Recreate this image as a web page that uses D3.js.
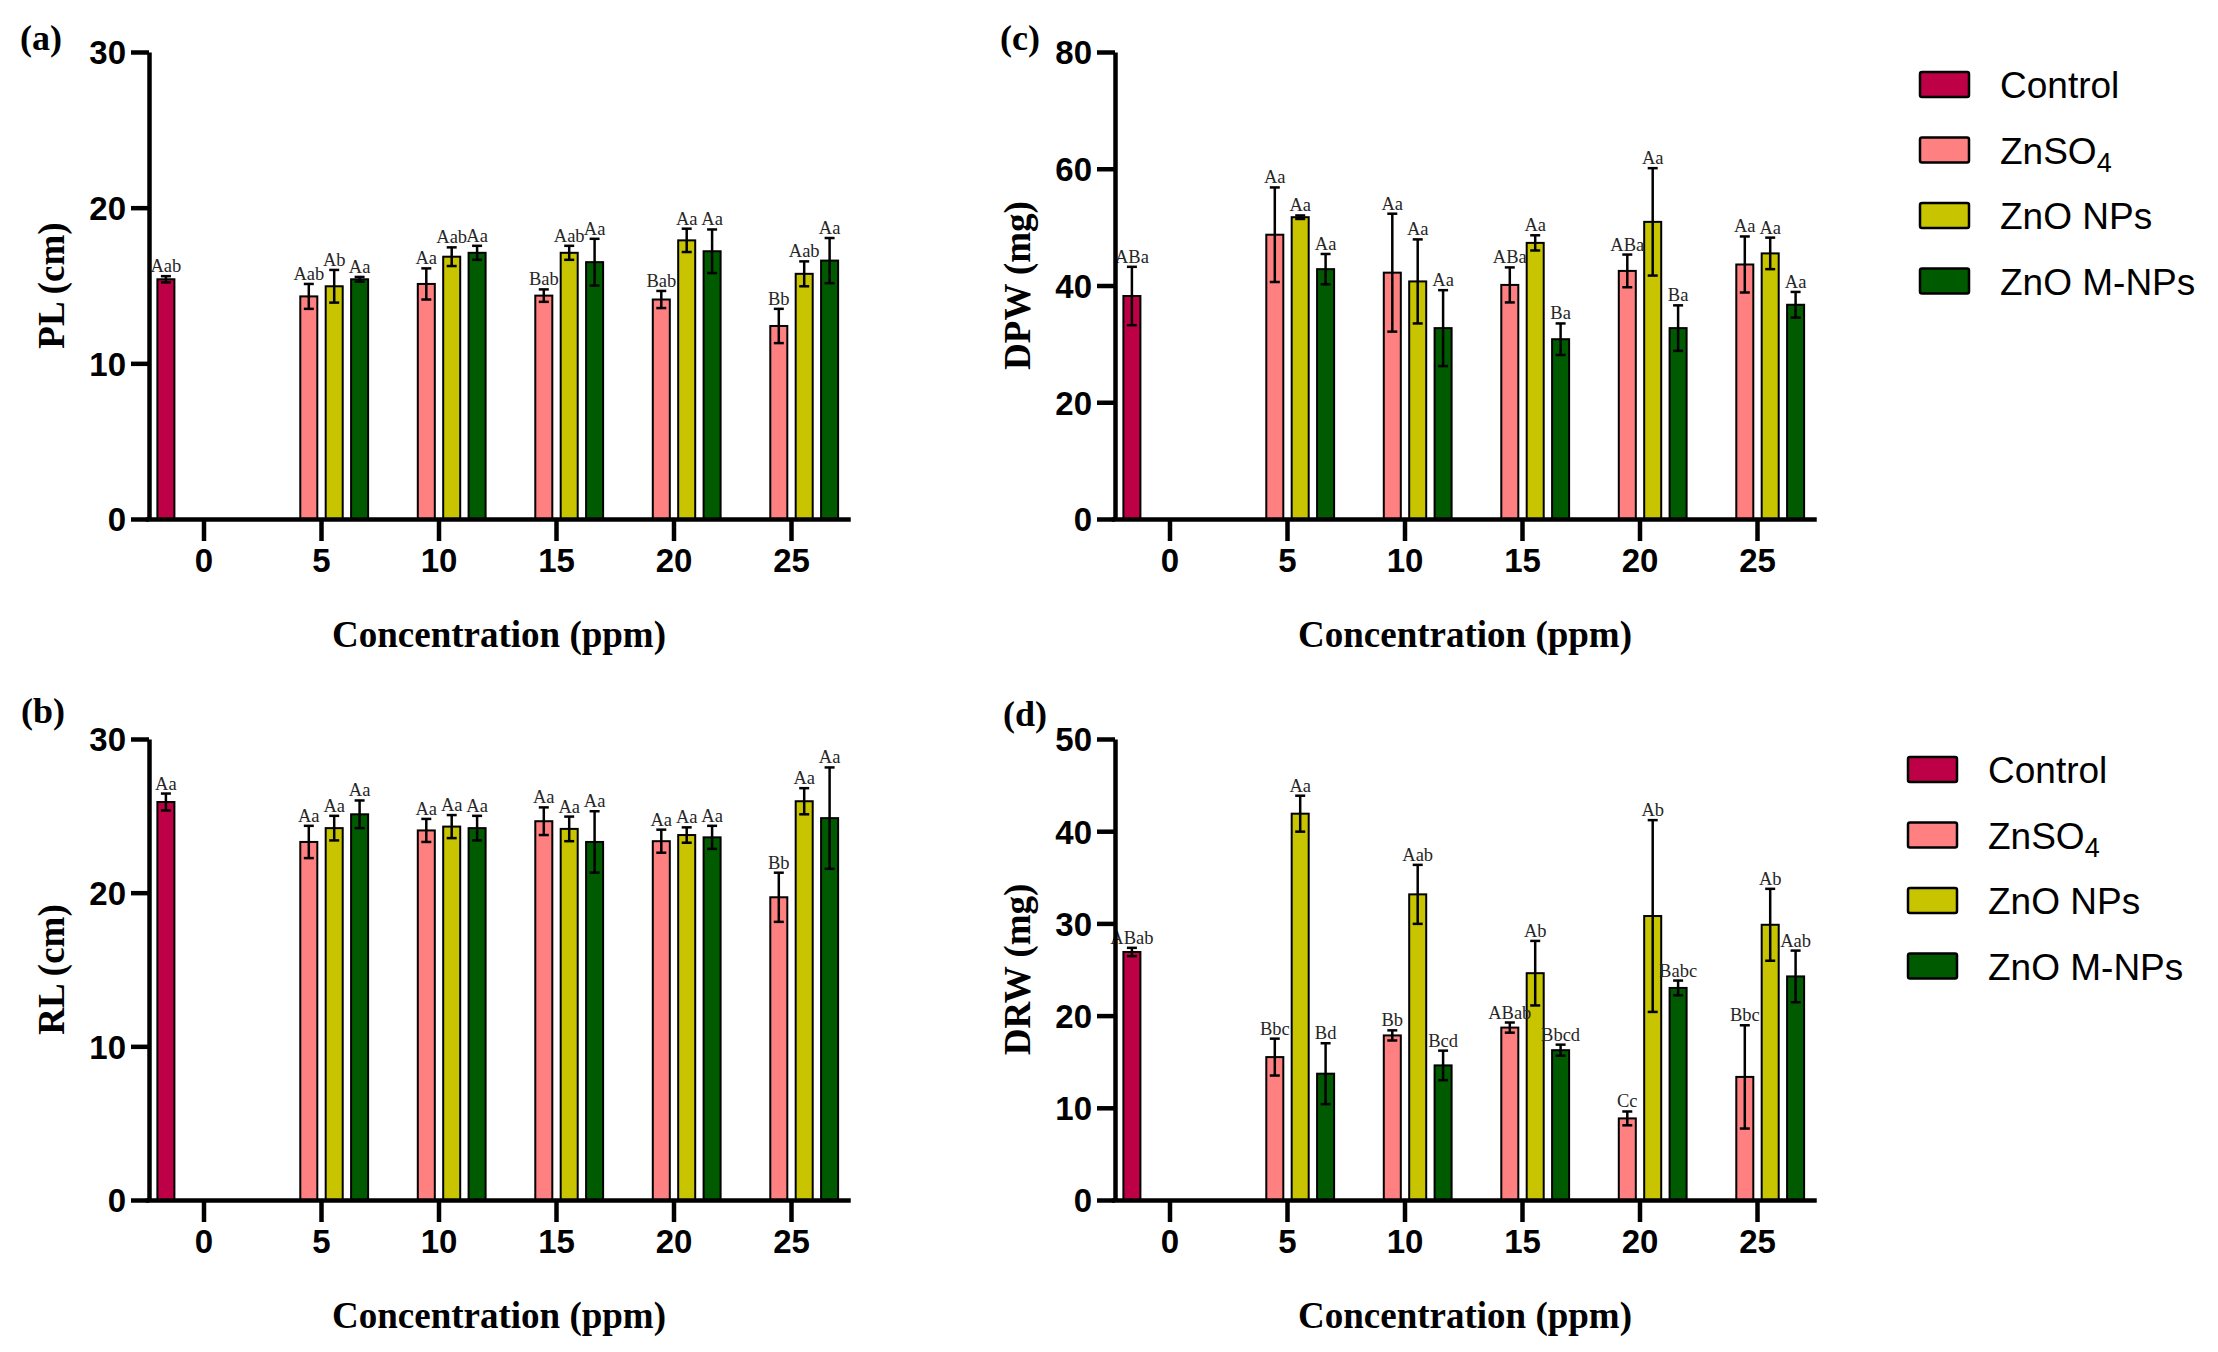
<!DOCTYPE html>
<html>
<head>
<meta charset="utf-8">
<script src="https://cdn.jsdelivr.net/npm/d3@7"></script>
<style>
  body { margin: 0; background: #fff; }
</style>
</head>
<body>
<svg id="fig" width="2218" height="1352"></svg>
<script>
// categories
const concentrations = ["0", "5", "10", "15", "20", "25"];
const treatments = ["Control", "ZnSO4", "ZnO NPs", "ZnO M-NPs"];
const colors = ["#BE0046", "#FF8080", "#C8C400", "#005A00"];

// rows = concentration, columns = treatment (Control, ZnSO4, ZnO NPs, ZnO M-NPs)
const plMean = [[15.4, null, null, null], [null, 14.3, 14.95, 15.4], [null, 15.1, 16.85, 17.1],
                [null, 14.35, 17.1, 16.5], [null, 14.1, 17.9, 17.2], [null, 12.4, 15.75, 16.6]];
const plErr = [[0.2, null, null, null], [null, 0.8, 1.05, 0.15], [null, 1.0, 0.6, 0.45],
               [null, 0.4, 0.45, 1.5], [null, 0.55, 0.75, 1.4], [null, 1.1, 0.8, 1.45]];
const plLetters = [["Aab"], [null, "Aab", "Ab", "Aa"], [null, "Aa", "Aab", "Aa"],
                   [null, "Bab", "Aab", "Aa"], [null, "Bab", "Aa", "Aa"], [null, "Bb", "Aab", "Aa"]];

const rlMean = [[25.9, null, null, null], [null, 23.3, 24.2, 25.1], [null, 24.05, 24.3, 24.2],
                [null, 24.65, 24.15, 23.3], [null, 23.35, 23.75, 23.6], [null, 19.7, 25.95, 24.85]];
const rlErr = [[0.55, null, null, null], [null, 1.05, 0.8, 0.9], [null, 0.75, 0.75, 0.8],
               [null, 0.9, 0.8, 2.0], [null, 0.75, 0.5, 0.75], [null, 1.6, 0.85, 3.3]];
const rlLetters = [["Aa"], [null, "Aa", "Aa", "Aa"], [null, "Aa", "Aa", "Aa"],
                   [null, "Aa", "Aa", "Aa"], [null, "Aa", "Aa", "Aa"], [null, "Bb", "Aa", "Aa"]];

const dpwMean = [[38.2, null, null, null], [null, 48.7, 51.7, 42.8], [null, 42.2, 40.7, 32.7],
                 [null, 40.1, 47.3, 30.8], [null, 42.5, 50.9, 32.7], [null, 43.6, 45.5, 36.7]];
const dpwErr = [[5.0, null, null, null], [null, 8.1, 0.3, 2.6], [null, 10.1, 7.2, 6.5],
                [null, 3.0, 1.3, 2.7], [null, 2.8, 9.2, 3.9], [null, 4.8, 2.7, 2.2]];
const dpwLetters = [["ABa"], [null, "Aa", "Aa", "Aa"], [null, "Aa", "Aa", "Aa"],
                    [null, "ABa", "Aa", "Ba"], [null, "ABa", "Aa", "Ba"], [null, "Aa", "Aa", "Aa"]];

const drwMean = [[26.9, null, null, null], [null, 15.5, 41.9, 13.7], [null, 17.85, 33.15, 14.6],
                 [null, 18.7, 24.6, 16.25], [null, 8.85, 30.8, 23.0], [null, 13.35, 29.85, 24.25]];
const drwErr = [[0.45, null, null, null], [null, 2.0, 1.95, 3.3], [null, 0.55, 3.2, 1.6],
                [null, 0.55, 3.5, 0.6], [null, 0.75, 10.4, 0.8], [null, 5.6, 3.9, 2.8]];
const drwLetters = [["ABab"], [null, "Bbc", "Aa", "Bd"], [null, "Bb", "Aab", "Bcd"],
                    [null, "ABab", "Ab", "Bbcd"], [null, "Cc", "Ab", "Babc"], [null, "Bbc", "Ab", "Aab"]];

const tickFont = "'Liberation Sans', Arial, sans-serif";
const serif = "'Liberation Serif', 'Times New Roman', serif";

const svg = d3.select("#fig");

const panels = [
    {tag: "(a)", title: "PL (cm)", mean: plMean, err: plErr, lab: plLetters, max: 30, step: 10,
     ax: 149, top: 52, base: 519, tagX: 20, tagY: 50},
    {tag: "(b)", title: "RL (cm)", mean: rlMean, err: rlErr, lab: rlLetters, max: 30, step: 10,
     ax: 149, top: 739, base: 1200, tagX: 21, tagY: 723},
    {tag: "(c)", title: "DPW (mg)", mean: dpwMean, err: dpwErr, lab: dpwLetters, max: 80, step: 20,
     ax: 1115, top: 52, base: 519, tagX: 1000, tagY: 50},
    {tag: "(d)", title: "DRW (mg)", mean: drwMean, err: drwErr, lab: drwLetters, max: 50, step: 10,
     ax: 1115, top: 739, base: 1200, tagX: 1003, tagY: 726}
];

const drawPanel = (p) => {
    const g = svg.append("g");

    const x0 = d3.scaleBand()
        .domain(concentrations)
        .range([p.ax - 3.75, p.ax + 701.25]);
    const x1 = d3.scaleBand()
        .domain(treatments)
        .range([0, x0.bandwidth()])
        .paddingInner(0.33)
        .paddingOuter(0.478);
    const y = d3.scaleLinear()
        .domain([0, p.max])
        .range([p.base, p.top]);

    // flatten rows, drop the empty slots
    const rows = [];
    concentrations.forEach((c, i) => {
        treatments.forEach((t, j) => {
            const v = p.mean[i][j];
            if (v == null) return;
            rows.push({c: c, t: t, j: j, v: v, e: p.err[i][j], l: p.lab[i][j]});
        });
    });
    const cx = (d) => x0(d.c) + x1(d.t) + x1.bandwidth() / 2;

    // bars
    g.selectAll("rect.bar")
        .data(rows)
        .join("rect")
        .attr("class", "bar")
        .attr("x", (d) => x0(d.c) + x1(d.t))
        .attr("y", (d) => y(d.v))
        .attr("width", x1.bandwidth())
        .attr("height", (d) => y(0) - y(d.v))
        .attr("fill", (d) => colors[d.j])
        .attr("stroke", "#000")
        .attr("stroke-width", 2);

    // error bars
    const eb = g.selectAll("g.err")
        .data(rows)
        .join("g")
        .attr("class", "err")
        .attr("stroke", "#000")
        .attr("stroke-width", 2.5);
    eb.append("line")
        .attr("x1", cx).attr("x2", cx)
        .attr("y1", (d) => y(d.v - d.e))
        .attr("y2", (d) => y(d.v + d.e));
    eb.append("line")
        .attr("x1", (d) => cx(d) - 5).attr("x2", (d) => cx(d) + 5)
        .attr("y1", (d) => y(d.v + d.e)).attr("y2", (d) => y(d.v + d.e));
    eb.append("line")
        .attr("x1", (d) => cx(d) - 5).attr("x2", (d) => cx(d) + 5)
        .attr("y1", (d) => y(d.v - d.e)).attr("y2", (d) => y(d.v - d.e));

    // significance letters
    g.selectAll("text.sig")
        .data(rows)
        .join("text")
        .attr("class", "sig")
        .attr("x", cx)
        .attr("y", (d) => y(d.v + d.e) - 4)
        .attr("text-anchor", "middle")
        .attr("font-family", serif)
        .attr("font-size", 18.5)
        .attr("fill", "#262626")
        .text((d) => d.l);

    // axes
    const yAxis = g.append("g")
        .attr("transform", `translate(${p.ax},0)`)
        .call(d3.axisLeft(y)
            .tickValues(d3.range(0, p.max + 0.1, p.step))
            .tickSize(18)
            .tickSizeOuter(0)
            .tickPadding(5));
    const xAxis = g.append("g")
        .attr("transform", `translate(0,${p.base})`)
        .call(d3.axisBottom(x0)
            .tickSize(22)
            .tickSizeOuter(0)
            .tickPadding(8));

    [yAxis, xAxis].forEach((a) => {
        a.selectAll("path, line").attr("stroke", "#000").attr("stroke-width", 4.5);
        a.selectAll("text")
            .attr("font-family", tickFont)
            .attr("font-weight", "bold")
            .attr("font-size", 33)
            .attr("fill", "#000");
    });
    yAxis.selectAll("text").attr("dy", "0.36em");

    // titles
    g.append("text")
        .attr("transform", `translate(${p.ax - 85},${(p.top + p.base) / 2}) rotate(-90)`)
        .attr("text-anchor", "middle")
        .attr("font-family", serif)
        .attr("font-weight", "bold")
        .attr("font-size", 37)
        .text(p.title);
    g.append("text")
        .attr("x", p.ax + 350)
        .attr("y", p.base + 128)
        .attr("text-anchor", "middle")
        .attr("font-family", serif)
        .attr("font-weight", "bold")
        .attr("font-size", 37)
        .text("Concentration (ppm)");
    g.append("text")
        .attr("x", p.tagX)
        .attr("y", p.tagY)
        .attr("font-family", serif)
        .attr("font-weight", "bold")
        .attr("font-size", 36)
        .text(p.tag);
};

const drawLegend = (lx, ly) => {
    const lg = svg.append("g").attr("transform", `translate(${lx},${ly})`);
    const item = lg.selectAll("g")
        .data(treatments)
        .join("g")
        .attr("transform", (d, i) => `translate(0,${i * 65.5})`);
    item.append("rect")
        .attr("width", 49)
        .attr("height", 25)
        .attr("rx", 2)
        .attr("fill", (d, i) => colors[i])
        .attr("stroke", "#000")
        .attr("stroke-width", 2.5);
    const txt = item.append("text")
        .attr("x", 80)
        .attr("y", 26)
        .attr("font-family", "'Liberation Sans', Arial, sans-serif")
        .attr("font-size", 37)
        .attr("fill", "#000");
    txt.each(function(d) {
        const t = d3.select(this);
        if (d === "ZnSO4") {
            t.append("tspan").text("ZnSO");
            t.append("tspan").attr("font-size", 27).attr("dy", 8).text("4");
        } else {
            t.text(d);
        }
    });
};

panels.forEach(drawPanel);
drawLegend(1920, 72);
drawLegend(1908, 757);
</script>
</body>
</html>
